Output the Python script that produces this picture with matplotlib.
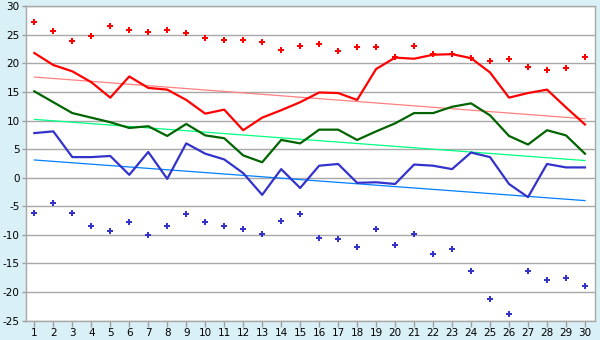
#!/usr/bin/env python3
import matplotlib
matplotlib.use("Agg")
import matplotlib.pyplot as plt

days = list(range(1, 31))

max_temp = [27.3, 25.6, 23.9, 24.7, 26.5, 25.8, 25.5, 25.8, 25.3, 24.4,
            24.1, 24.1, 23.7, 22.3, 23.0, 23.4, 22.2, 22.9, 22.9, 21.1,
            23.0, 21.6, 21.6, 20.9, 20.4, 20.8, 19.4, 18.8, 19.2, 21.1]
high_avg = [21.8, 19.7, 18.6, 16.7, 14.0, 17.7, 15.7, 15.4, 13.6, 11.2,
            11.9, 8.3, 10.5, 11.8, 13.2, 14.9, 14.8, 13.6, 19.0, 21.0,
            20.8, 21.5, 21.6, 20.9, 18.4, 14.0, 14.8, 15.4, 12.3, 9.3]
mean_temp = [15.1, 13.2, 11.3, 10.5, 9.7, 8.7, 9.0, 7.3, 9.4, 7.4,
             6.9, 3.9, 2.7, 6.6, 6.0, 8.4, 8.4, 6.6, 8.1, 9.5,
             11.3, 11.3, 12.4, 13.0, 10.9, 7.3, 5.8, 8.3, 7.4, 4.2]
low_avg = [7.8, 8.1, 3.6, 3.6, 3.8, 0.5, 4.5, -0.2, 6.0, 4.2,
           3.2, 0.8, -3.0, 1.5, -1.8, 2.1, 2.4, -0.9, -0.8, -1.1,
           2.3, 2.1, 1.5, 4.4, 3.6, -1.1, -3.4, 2.4, 1.8, 1.8]
min_temp = [-6.1, -4.5, -6.1, -8.4, -9.4, -7.7, -10.1, -8.4, -6.3, -7.7,
            -8.4, -8.9, -9.8, -7.5, -6.3, -10.5, -10.7, -12.2, -8.9, -11.7,
            -9.8, -13.3, -12.4, -16.3, -21.2, -23.9, -16.3, -17.8, -17.6, -18.9]

# trend lines, value at day 1 and day 30
trend_days = [1, 30]
trend_high = [17.6, 10.3]
trend_mean = [10.2, 3.0]
trend_low = [3.1, -4.0]

y_ticks = list(range(-25, 31, 5))

plt.rcParams["axes.unicode_minus"] = False

bg = "#d9f0f7"
fig = plt.figure(figsize=(6, 3.4), dpi=100, facecolor=bg)
ax = fig.add_axes([0.0433, 0.0568, 0.9484, 0.9252])
ax.set_facecolor("white")

ax.plot(trend_days, trend_high, color="#ff8080", lw=0.9, zorder=2)
ax.plot(trend_days, trend_mean, color="#00ff80", lw=0.9, zorder=2)
ax.plot(trend_days, trend_low, color="#0080ff", lw=0.9, zorder=2)

ax.plot(days, high_avg, color="#ff0000", lw=1.6, zorder=3)
ax.plot(days, mean_temp, color="#006400", lw=1.6, zorder=3)
ax.plot(days, low_avg, color="#3333cc", lw=1.6, zorder=3)

ax.plot(days, max_temp, ls="none", marker="P", ms=5, color="#ff0000",
        mew=0, zorder=4)
ax.plot(days, min_temp, ls="none", marker="P", ms=5, color="#3333cc",
        mew=0, zorder=4)

ax.set_xlim(0.56, 30.53)
ax.set_ylim(-25, 30)
ax.set_xticks(days)
ax.set_yticks(y_ticks)
ax.yaxis.grid(True, color="#a8a8a8", lw=1)
ax.set_axisbelow(True)
ax.tick_params(axis="both", labelsize=7.5, colors="#a0a0a0",
               labelcolor="black", length=4, width=1, pad=1.5)
ax.tick_params(axis="y", length=3)
for s in ax.spines.values():
    s.set_color("#a8a8a8")
    s.set_linewidth(1)

fig.savefig("out.png", dpi=100, facecolor=bg)
